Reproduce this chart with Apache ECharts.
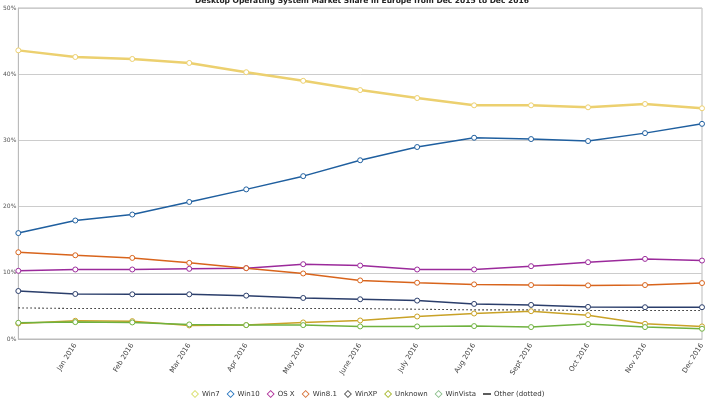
<!DOCTYPE html>
<html lang="en">
<head>
    <meta charset="UTF-8">
    <title>Desktop OS Market Share Europe</title>
    <script src="https://cdn.jsdelivr.net/npm/echarts@6/dist/echarts.min.js"></script>
    <style>
        html, body { margin: 0; padding: 0; background: #fff; }
        #chart { width: 720px; height: 406px; }
    </style>
</head>
<body>
<div id="chart"></div>
<script>
    // months, Dec 2015 .. Dec 2016
    const months = ['Dec 2015', 'Jan 2016', 'Feb 2016', 'Mar 2016', 'Apr 2016', 'May 2016', 'June 2016',
        'July 2016', 'Aug 2016', 'Sept 2016', 'Oct 2016', 'Nov 2016', 'Dec 2016'];

    // market share in %
    const win7 = [43.6, 42.6, 42.3, 41.7, 40.3, 39.0, 37.6, 36.4, 35.3, 35.3, 35.0, 35.5, 34.85];
    const win10 = [16.0, 17.9, 18.8, 20.7, 22.6, 24.6, 27.0, 29.0, 30.4, 30.2, 29.9, 31.1, 32.5];
    const osx = [10.3, 10.5, 10.5, 10.6, 10.7, 11.3, 11.1, 10.5, 10.5, 11.0, 11.6, 12.1, 11.85];
    const win81 = [13.1, 12.65, 12.25, 11.5, 10.7, 9.9, 8.85, 8.5, 8.25, 8.15, 8.1, 8.15, 8.45];
    const winxp = [7.25, 6.8, 6.75, 6.75, 6.55, 6.2, 6.0, 5.8, 5.3, 5.15, 4.85, 4.8, 4.8];
    const unknown = [2.35, 2.75, 2.7, 2.05, 2.1, 2.5, 2.8, 3.4, 3.85, 4.2, 3.6, 2.3, 1.9];
    const vista = [2.45, 2.55, 2.5, 2.2, 2.1, 2.1, 1.9, 1.9, 1.95, 1.8, 2.25, 1.8, 1.55];
    const other = [4.7, 4.6, 4.6, 4.6, 4.7, 4.6, 4.6, 4.5, 4.4, 4.4, 4.3, 4.3, 4.3];

    const yTicks = [0, 10, 20, 30, 40, 50];

    const lines = [
        {name: 'Win7', data: win7, color: '#ecd06f', legendColor: '#d8df6a', width: 2.5},
        {name: 'Win10', data: win10, color: '#1f5f9f', legendColor: '#2a78c0', width: 1.5},
        {name: 'OS X', data: osx, color: '#9b2a9b', legendColor: '#b0309a', width: 1.5},
        {name: 'Win8.1', data: win81, color: '#d8641c', legendColor: '#d8743a', width: 1.5},
        {name: 'WinXP', data: winxp, color: '#2b3e6b', legendColor: '#555555', width: 1.5},
        {name: 'Unknown', data: unknown, color: '#c9a227', legendColor: '#a8b830', width: 1.5},
        {name: 'WinVista', data: vista, color: '#6fb23f', legendColor: '#8cc08c', width: 1.5}
    ];

    // hollow diamond for the legend
    const hollowDiamond = 'path://M5,0 L10,5 L5,10 L0,5 Z M5,1.6 L1.6,5 L5,8.4 L8.4,5 Z';

    const myChart = echarts.init(document.getElementById('chart'));

    const series = lines.map(l => ({
        name: l.name,
        type: 'line',
        data: l.data,
        symbol: 'circle',
        symbolSize: 5,
        itemStyle: {color: '#fff', borderColor: l.color, borderWidth: 1},
        lineStyle: {color: l.color, width: l.width},
        z: 3
    }));
    series.push({
        name: 'Other (dotted)',
        type: 'line',
        data: other,
        showSymbol: false,
        symbol: 'none',
        itemStyle: {color: '#333'},
        lineStyle: {color: '#222', width: 1.1, type: [1.5, 2.5]},
        z: 2
    });

    const legendData = lines.map(l => ({
        name: l.name,
        icon: hollowDiamond,
        itemStyle: {color: l.legendColor, borderWidth: 0}
    }));
    legendData.push({
        name: 'Other (dotted)',
        icon: 'path://M0,4 L10,4 L10,6 L0,6 Z',
        itemStyle: {color: '#333', borderWidth: 0}
    });

    const option = {
        animation: false,
        title: {
            text: 'Desktop Operating System Market Share in Europe from Dec 2015 to Dec 2016',
            left: 357,
            textAlign: 'center',
            top: -8,
            textStyle: {fontSize: 7.5, fontWeight: 'bold', color: '#222', fontFamily: 'DejaVu Sans'}
        },
        legend: {
            data: legendData,
            left: 186,
            top: 385,
            itemWidth: 8,
            itemHeight: 8,
            itemGap: 7,
            textStyle: {fontSize: 7, color: '#333', fontFamily: 'DejaVu Sans', padding: [0, 0, 0, -2]}
        },
        grid: {
            left: 15,
            right: 18,
            top: 8,
            bottom: 67,
            show: true,
            borderColor: '#bbb',
            borderWidth: 1
        },
        xAxis: {
            type: 'category',
            data: months,
            boundaryGap: false,
            axisLine: {lineStyle: {color: '#bbb'}},
            axisTick: {show: false},
            splitLine: {show: false},
            axisLabel: {
                rotate: 58,
                interval: 0,
                margin: 5,
                fontSize: 7,
                color: '#444',
                fontFamily: 'DejaVu Sans',
                formatter: (v, i) => i === 0 ? '' : v
            }
        },
        yAxis: {
            type: 'value',
            min: yTicks[0],
            max: yTicks[yTicks.length - 1],
            interval: 10,
            axisLine: {show: true, lineStyle: {color: '#bbb'}},
            axisTick: {show: false},
            splitLine: {lineStyle: {color: '#ccc'}},
            axisLabel: {
                margin: 2,
                fontSize: 6,
                color: '#555',
                fontFamily: 'DejaVu Sans',
                formatter: '{value}%'
            }
        },
        series: series
    };

    myChart.setOption(option);
</script>
</body>
</html>
